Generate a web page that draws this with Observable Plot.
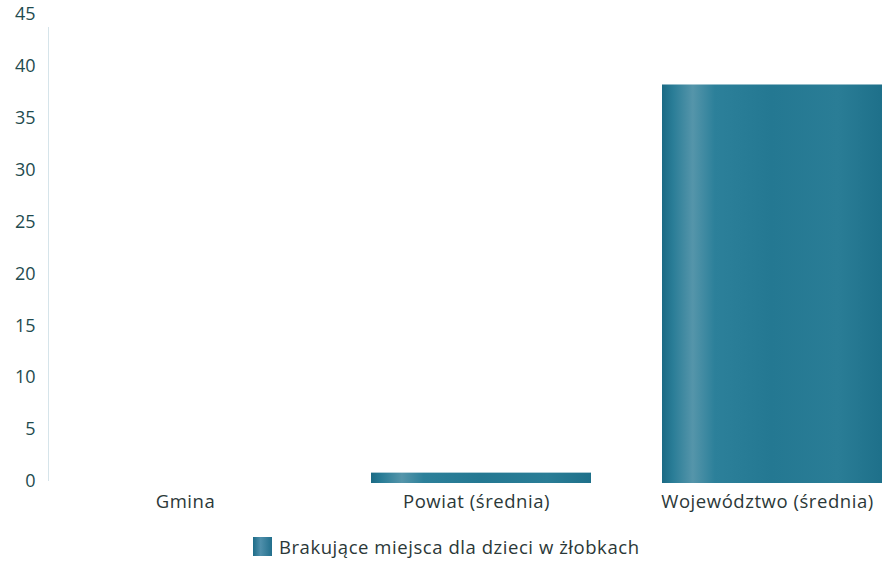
<!DOCTYPE html>
<html>
<head>
<meta charset="utf-8">
<script src="https://cdn.jsdelivr.net/npm/d3@7"></script>
<script src="https://cdn.jsdelivr.net/npm/@observablehq/plot@0.6"></script>
<style>
  body { margin: 0; background: #fff; font-family: "Open Sans", sans-serif; }
  #chart { position: relative; width: 882px; height: 562px; overflow: hidden; }
  .legend { position: absolute; left: 253px; top: 534px; display: flex; align-items: center; font-size: 18.5px; letter-spacing: 0.55px; color: #2b3838; font-family: "Open Sans", sans-serif; }
  .legend .sw { width: 19px; height: 19px; margin-right: 7px; background: linear-gradient(90deg, #1d6c88 0%, #4f8fab 40%, #226f8c 100%); }
</style>
</head>
<body>
<div id="chart"></div>
<script>
const categories = ["Gmina", "Powiat (średnia)", "Województwo (średnia)"];
const values = [0, 1.0, 38.4];
const yTicks = [0, 5, 10, 15, 20, 25, 30, 35, 40, 45];
const seriesName = "Brakujące miejsca dla dzieci w żłobkach";

const data = categories.map((c, i) => ({category: c, value: values[i]}));

const plot = Plot.plot({
  width: 882,
  height: 520,
  marginLeft: 48,
  marginTop: 27,
  marginBottom: 40,
  marginRight: 0,
  style: {fontFamily: "Open Sans, sans-serif", fontSize: "16px", overflow: "hidden"},
  x: {domain: categories, range: [44, 917], paddingInner: 0.245, paddingOuter: 0.1225, label: null},
  y: {domain: [0, 45], range: [483, 16], label: null},
  marks: [
    Plot.frame({anchor: "left", stroke: "#d6e4ea", strokeOpacity: 1}),
    Plot.axisY({ticks: yTicks, tickSize: 0, tickPadding: 13, dy: -2, tickFormat: d => d, fill: "#1f4b4f", fontSize: 18, label: null}),
    Plot.axisX({tickSize: 0, tickPadding: 14, dx: -5, fill: "#2b3838", fontSize: 18.5, label: null}),
    Plot.barY(data, {x: "category", y: "value", fill: "url(#barGrad)"})
  ]
});

d3.select(plot).selectAll("[aria-label='x-axis tick label'] text").style("letter-spacing", "0.55px");

const defs = d3.select(plot).insert("defs", ":first-child");
const grad = defs.append("linearGradient").attr("id", "barGrad")
  .attr("x1", "0").attr("x2", "1").attr("y1", "0").attr("y2", "0");
[[0, "#1b6a84"], [0.05, "#2a7d97"], [0.14, "#5595aa"], [0.24, "#2c809a"], [0.5, "#247892"], [0.8, "#2a7d96"], [1, "#1e708a"]]
  .forEach(([o, c]) => grad.append("stop").attr("offset", o).attr("stop-color", c));

const chart = document.getElementById("chart");
chart.appendChild(plot);
const legend = document.createElement("div");
legend.className = "legend";
legend.innerHTML = `<span class="sw"></span><span>${seriesName}</span>`;
chart.appendChild(legend);
</script>
</body>
</html>
